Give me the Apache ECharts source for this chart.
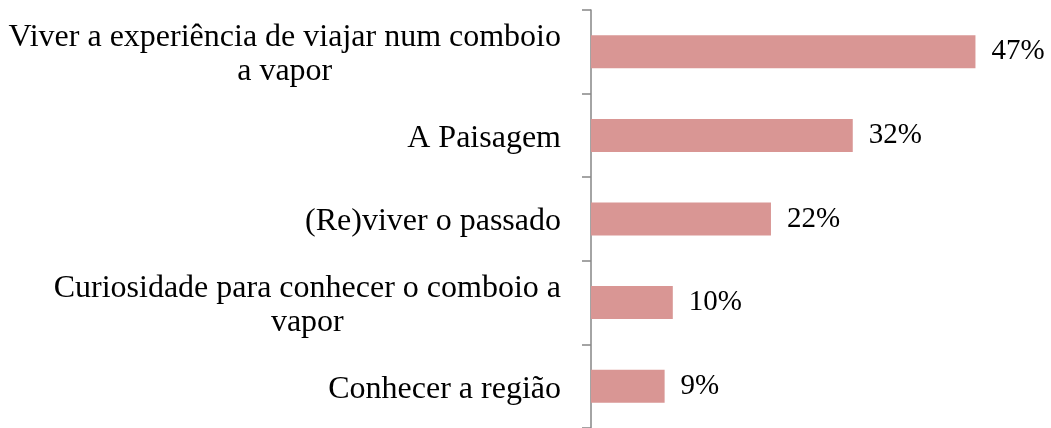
<!DOCTYPE html>
<html>
<head>
<meta charset="utf-8">
<script src="https://cdn.jsdelivr.net/npm/echarts@6/dist/echarts.min.js"></script>
<style>
  html, body { margin: 0; padding: 0; background: #fff; }
  #c1 { width: 1051px; height: 428px; }
</style>
</head>
<body>
<div id="c1"></div>
<script>
var categories = [
    'Viver a experiência de viajar num comboio\na vapor',
    'A Paisagem',
    '(Re)viver o passado',
    'Curiosidade para conhecer o comboio a\nvapor',
    'Conhecer a região'
];
var values = [47, 32, 22, 10, 9];

var chart = echarts.init(document.getElementById('c1'));
var labelFont = { color: '#000', fontFamily: 'Liberation Serif', fontSize: 32, lineHeight: 34 };
var option = {
    backgroundColor: '#ffffff',
    animation: false,
    grid: {
        left: 591,
        right: 51,
        top: 10,
        bottom: -1,
        containLabel: false
    },
    xAxis: {
        type: 'value',
        min: 0,
        max: 50,
        show: false
    },
    yAxis: {
        type: 'category',
        data: categories,
        inverse: true,
        axisLine: { show: true, lineStyle: { color: '#868686', width: 1.5 } },
        axisTick: { show: true, inside: false, length: 9, lineStyle: { color: '#868686', width: 1.5 } },
        axisLabel: {
            margin: 30,
            color: '#000',
            fontFamily: 'Liberation Serif',
            fontSize: 32,
            lineHeight: 34,
            align: 'right',
            padding: [6, 0, 0, 0],
            // wrapped lines are centred under the first line
            formatter: function (v) {
                var parts = v.split('\n');
                if (parts.length === 1) return '{a|' + v + '}';
                return '{a|' + parts[0] + '}\n{c|' + parts[1] + '}';
            },
            rich: {
                a: labelFont,
                c: Object.assign({ align: 'center' }, labelFont)
            }
        },
        splitLine: { show: false }
    },
    series: [{
        type: 'bar',
        data: values,
        barWidth: 33,
        itemStyle: { color: '#d99694' },
        label: {
            show: true,
            position: 'right',
            distance: 16,
            color: '#000',
            fontFamily: 'Liberation Serif',
            fontSize: 29,
            formatter: '{c}%'
        }
    }]
};
chart.setOption(option);
</script>
</body>
</html>
